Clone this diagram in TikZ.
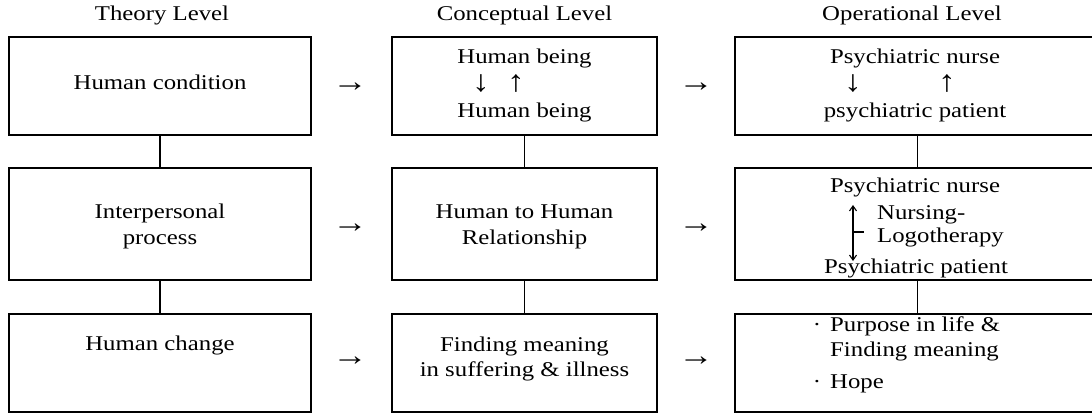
\documentclass[tikz,border=0pt]{standalone}
\usepackage{fontspec}
\setmainfont[FakeStretch=1.18]{Liberation Serif}
\usetikzlibrary{arrows.meta}
\begin{document}
\begin{tikzpicture}[x=1pt,y=-1pt,
  box/.style={draw, line width=1.4pt, inner sep=0pt},
  conn/.style={draw, line width=1.3pt},
  txt/.style={font=\fontsize{21}{25}\selectfont, inner sep=0pt, anchor=mid},
  ltxt/.style={font=\fontsize{21}{25}\selectfont, inner sep=0pt, anchor=mid west},
  arr/.style={font=\fontsize{30}{30}\selectfont, inner sep=0pt, anchor=center},
  dbl/.style={line width=1.1pt, {Straight Barb[length=5pt,width=7pt]}-{Straight Barb[length=5pt,width=7pt]}}]
\useasboundingbox (0,0) rectangle (1092,414);
% boxes
\node[box, minimum width=302pt, minimum height=98pt]  (t1) at (160,86) {};
\node[box, minimum width=302pt, minimum height=112pt] (t2) at (160,224) {};
\node[box, minimum width=302pt, minimum height=98pt]  (t3) at (160,363) {};
\node[box, minimum width=265pt, minimum height=98pt]  (c1) at (524.5,86) {};
\node[box, minimum width=265pt, minimum height=112pt] (c2) at (524.5,224) {};
\node[box, minimum width=265pt, minimum height=98pt]  (c3) at (524.5,363) {};
\node[box, minimum width=365pt, minimum height=98pt]  (o1) at (917.5,86) {};
\node[box, minimum width=365pt, minimum height=112pt] (o2) at (917.5,224) {};
\node[box, minimum width=365pt, minimum height=98pt]  (o3) at (917.5,363) {};
% vertical connectors
\draw[conn] (t1.south) -- (t2.north);
\draw[conn] (t2.south) -- (t3.north);
\draw[conn] (c1.south) -- (c2.north);
\draw[conn] (c2.south) -- (c3.north);
\draw[conn] (o1.south) -- (o2.north);
\draw[conn] (o2.south) -- (o3.north);
% headers
\node[txt] (h1) at (162,18) {Theory Level};
\node[txt] (h2) at (524.5,18) {Conceptual Level};
\node[txt] (h3) at (912,18) {Operational Level};
% arrows between columns
\node[arr] (r1a) at (350,87) {→};
\node[arr] (r1b) at (696,87) {→};
\node[arr] (r2a) at (350,228) {→};
\node[arr] (r2b) at (696,228) {→};
\node[arr] (r3a) at (350,361) {→};
\node[arr] (r3b) at (696,361) {→};
% row 1
\node[txt] (x1) at (160,87) {Human condition};
\node[txt] (x2) at (524.5,61) {Human being};
\node[arr] (x3) at (481,84) {↓};
\node[arr] (x4) at (516,84) {↑};
\node[txt] (x5) at (524.5,115) {Human being};
\node[txt] (x6) at (915,61) {Psychiatric nurse};
\node[arr] (x7) at (853,84) {↓};
\node[arr] (x8) at (947,84) {↑};
\node[txt] (x9) at (915,115) {psychiatric patient};
% row 2
\node[txt] (y1) at (160,216) {Interpersonal};
\node[txt] (y2) at (160,242) {process};
\node[txt] (y3) at (524.5,216) {Human to Human};
\node[txt] (y4) at (524.5,242) {Relationship};
\node[txt] (y5) at (915,190) {Psychiatric nurse};
\node[ltxt] (y6) at (877,217) {Nursing-};
\node[ltxt] (y7) at (877,240) {Logotherapy};
\node[txt] (y8) at (916,271) {Psychiatric patient};
\coordinate (a1) at (853,205);
\coordinate (a2) at (853,261);
\coordinate (am) at (853,232);
\coordinate (at) at (864,232);
\draw[dbl] (a1) -- (a2);
\draw[line width=1.1pt] (am) -- (at);
% row 3
\node[txt] (z1) at (160,348) {Human change};
\node[txt] (z2) at (524.5,349) {Finding meaning};
\node[txt] (z3) at (524.5,374) {in suffering \& illness};
\node[txt] (z4) at (817,329) {·};
\node[ltxt] (z5) at (830,329) {Purpose in life \&};
\node[ltxt] (z6) at (830,354) {Finding meaning};
\node[txt] (z7) at (817,386) {·};
\node[ltxt] (z8) at (830,386) {Hope};
\end{tikzpicture}
\end{document}
